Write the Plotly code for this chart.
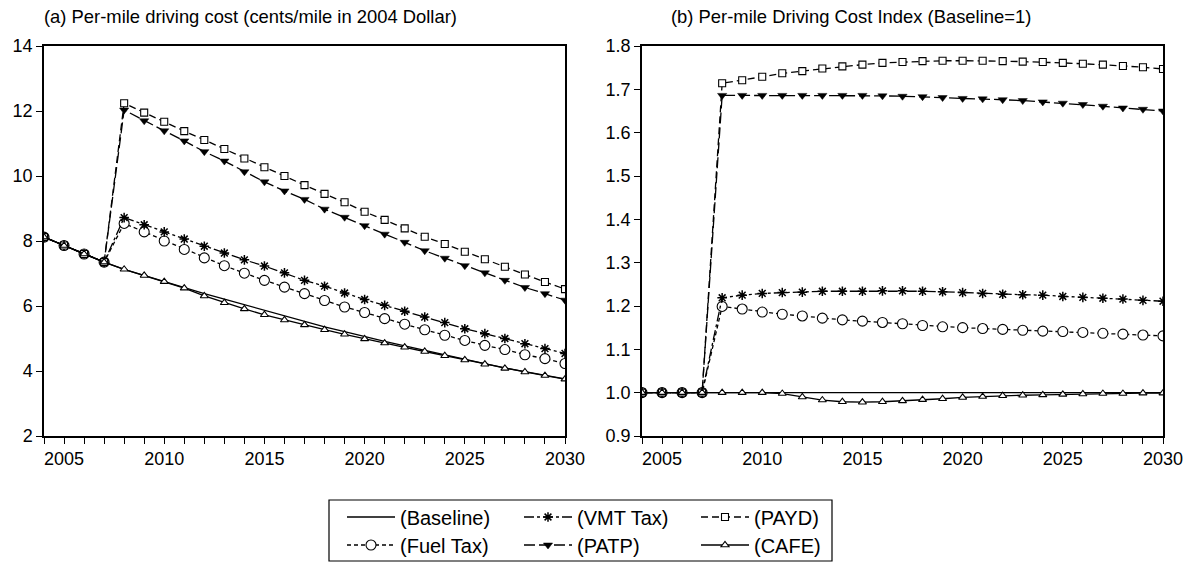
import plotly.graph_objects as go

years = list(range(2004, 2031))

# Panel (a): per-mile driving cost (cents/mile, 2004 $)
baseline_cost = [8.12, 7.86, 7.60, 7.35, 7.13, 6.94, 6.75, 6.56, 6.38, 6.21, 6.04, 5.86, 5.69, 5.53,
                 5.36, 5.21, 5.05, 4.91, 4.77, 4.63, 4.49, 4.36, 4.22, 4.09, 3.98, 3.87, 3.76]
cafe_cost = [8.12, 7.86, 7.60, 7.35, 7.13, 6.94, 6.75, 6.55, 6.31, 6.10, 5.91, 5.73, 5.57, 5.42,
             5.27, 5.13, 4.99, 4.86, 4.73, 4.60, 4.47, 4.34, 4.21, 4.08, 3.97, 3.86, 3.75]
fuel_cost = [8.12, 7.86, 7.60, 7.35, 8.54, 8.28, 8.00, 7.74, 7.48, 7.24, 7.01, 6.79, 6.58, 6.38,
             6.17, 5.97, 5.80, 5.61, 5.44, 5.27, 5.10, 4.94, 4.79, 4.66, 4.50, 4.38, 4.23]
vmt_cost = [8.12, 7.86, 7.60, 7.35, 8.72, 8.50, 8.28, 8.06, 7.84, 7.63, 7.42, 7.23, 7.02, 6.79,
            6.61, 6.40, 6.20, 6.02, 5.84, 5.66, 5.49, 5.30, 5.15, 5.00, 4.84, 4.69, 4.54]
patp_cost = [8.12, 7.86, 7.60, 7.35, 12.03, 11.70, 11.39, 11.08, 10.75, 10.46, 10.13, 9.82, 9.54, 9.28,
             8.98, 8.73, 8.47, 8.21, 7.96, 7.70, 7.47, 7.24, 7.02, 6.79, 6.57, 6.38, 6.18]
payd_cost = [8.12, 7.86, 7.60, 7.35, 12.24, 11.95, 11.67, 11.38, 11.11, 10.83, 10.54, 10.27, 10.00, 9.72,
             9.45, 9.19, 8.90, 8.65, 8.39, 8.13, 7.91, 7.67, 7.44, 7.21, 6.97, 6.74, 6.52]

# Panel (b): cost index (Baseline = 1)
baseline_idx = [1.0] * 27
fuel_idx = [1.0, 1.0, 1.0, 1.0, 1.199, 1.193, 1.186, 1.181, 1.177, 1.172, 1.168, 1.165, 1.162, 1.159,
            1.155, 1.152, 1.150, 1.148, 1.146, 1.144, 1.142, 1.141, 1.139, 1.137, 1.135, 1.133, 1.131]
vmt_idx = [1.0, 1.0, 1.0, 1.0, 1.219, 1.225, 1.229, 1.231, 1.232, 1.234, 1.234, 1.234, 1.235, 1.235,
           1.234, 1.233, 1.231, 1.229, 1.227, 1.226, 1.225, 1.222, 1.220, 1.218, 1.216, 1.213, 1.211]
patp_idx = [1.0, 1.0, 1.0, 1.0, 1.686, 1.686, 1.686, 1.686, 1.686, 1.686, 1.686, 1.686, 1.685, 1.684,
            1.683, 1.681, 1.679, 1.678, 1.676, 1.674, 1.671, 1.668, 1.665, 1.661, 1.657, 1.654, 1.650]
payd_idx = [1.0, 1.0, 1.0, 1.0, 1.714, 1.721, 1.729, 1.737, 1.742, 1.748, 1.753, 1.757, 1.761, 1.763,
            1.765, 1.766, 1.766, 1.766, 1.765, 1.764, 1.763, 1.761, 1.759, 1.757, 1.754, 1.751, 1.747]
cafe_idx = [1.0, 1.0, 1.0, 1.0, 1.0, 1.0, 1.0, 0.998, 0.990, 0.983, 0.979, 0.978, 0.979, 0.981,
            0.984, 0.986, 0.989, 0.991, 0.993, 0.994, 0.995, 0.996, 0.997, 0.998, 0.998, 0.999, 0.999]

names = ["(Baseline)", "(Fuel Tax)", "(VMT Tax)", "(PATP)", "(PAYD)", "(CAFE)"]
left_series = [baseline_cost, fuel_cost, vmt_cost, patp_cost, payd_cost, cafe_cost]
right_series = [baseline_idx, fuel_idx, vmt_idx, patp_idx, payd_idx, cafe_idx]

styles = {
    "(Baseline)": dict(dash="solid", mode="lines", marker=None, legend="legend"),
    "(Fuel Tax)": dict(dash="4px,3px", mode="lines+markers",
                       marker=dict(symbol="circle", size=10, color="white",
                                   line=dict(color="black", width=1.1)), legend="legend2"),
    "(VMT Tax)": dict(dash="10px,3px,3px,3px", mode="lines+markers",
                      marker=dict(symbol="asterisk-open", size=8, color="black",
                                  line=dict(color="black", width=1.5)), legend="legend"),
    "(PATP)": dict(dash="11px,4px", mode="lines+markers",
                   marker=dict(symbol="triangle-down", size=8, color="black",
                               line=dict(color="black", width=0.5)), legend="legend2"),
    "(PAYD)": dict(dash="7px,4px", mode="lines+markers",
                   marker=dict(symbol="square", size=7, color="white",
                               line=dict(color="black", width=1.1)), legend="legend"),
    "(CAFE)": dict(dash="solid", mode="lines+markers",
                   marker=dict(symbol="triangle-up", size=7, color="white",
                               line=dict(color="black", width=1.1)), legend="legend2"),
}

fig = go.Figure()
for name, ys in zip(names, left_series):
    st = styles[name]
    kw = dict(x=years, y=ys, name=name, mode=st["mode"],
              line=dict(color="black", width=1.3, dash=st["dash"]),
              xaxis="x", yaxis="y", legend=st["legend"], showlegend=True)
    if st["marker"] is not None:
        kw["marker"] = st["marker"]
    fig.add_trace(go.Scatter(**kw))
for name, ys in zip(names, right_series):
    st = styles[name]
    kw = dict(x=years, y=ys, name=name, mode=st["mode"],
              line=dict(color="black", width=1.3, dash=st["dash"]),
              xaxis="x2", yaxis="y2", showlegend=False)
    if st["marker"] is not None:
        kw["marker"] = st["marker"]
    fig.add_trace(go.Scatter(**kw))

W, H = 1197, 563
L, R, T, B = 44, 34, 46, 127
pw = W - L - R
ph = H - T - B

def px(xpix):
    return (xpix - L) / pw

def py(ypix):
    return 1 - (ypix - T) / ph

def cx(xpix):
    return xpix / W

def cy(ypix):
    return 1 - ypix / H

font = "Liberation Sans, Arial, Helvetica, sans-serif"
axis_common = dict(showline=True, linecolor="black", linewidth=1.5, mirror=True,
                   showgrid=False, zeroline=False, ticks="outside", ticklen=6,
                   tickwidth=1, tickcolor="black", automargin=False,
                   tickfont=dict(family=font, size=18, color="black"))
xcommon = dict(axis_common, range=[2004, 2030], tickvals=[2005, 2010, 2015, 2020, 2025, 2030],
               minor=dict(dtick=1, tick0=2004, ticks="outside", ticklen=6, tickcolor="black", tickwidth=1))

legend_common = dict(orientation="h", xanchor="left", yanchor="middle",
                     xref="container", yref="container", entrywidth=114, entrywidthmode="pixels",
                     font=dict(family=font, size=20, color="black"), bgcolor="rgba(0,0,0,0)",
                     borderwidth=0, itemwidth=48, tracegroupgap=0)

fig.update_layout(
    width=W, height=H,
    margin=dict(l=L, r=R, t=T, b=B, autoexpand=False),
    paper_bgcolor="white", plot_bgcolor="white",
    font=dict(family=font, color="black"),
    xaxis=dict(xcommon, domain=[0, px(565)], anchor="y"),
    yaxis=dict(axis_common, range=[2, 14], tickvals=[2, 4, 6, 8, 10, 12, 14], anchor="x"),
    xaxis2=dict(xcommon, domain=[px(642), 1], anchor="y2"),
    yaxis2=dict(axis_common, range=[0.9, 1.8], dtick=0.1, tick0=0.9, tickformat=".1f", anchor="x2"),
    legend=dict(legend_common, x=cx(342), y=cy(517)),
    legend2=dict(legend_common, x=cx(342), y=cy(545)),
    shapes=[dict(type="rect", xref="paper", yref="paper",
                 x0=px(329), x1=px(832), y0=py(500), y1=py(561),
                 line=dict(color="black", width=1.2), fillcolor="rgba(0,0,0,0)")],
    annotations=[
        dict(text="(a) Per-mile driving cost (cents/mile in 2004 Dollar)", xref="paper", yref="paper",
             x=px(250), y=py(16), xanchor="center", yanchor="middle", showarrow=False,
             font=dict(family=font, size=18.4, color="black")),
        dict(text="(b) Per-mile Driving Cost Index (Baseline=1)", xref="paper", yref="paper",
             x=px(851), y=py(16), xanchor="center", yanchor="middle", showarrow=False,
             font=dict(family=font, size=18.4, color="black")),
    ],
)

fig.write_html("out.html", config={"displayModeBar": False},
               post_script="document.body.style.margin='0px';document.body.style.overflow='hidden';")
